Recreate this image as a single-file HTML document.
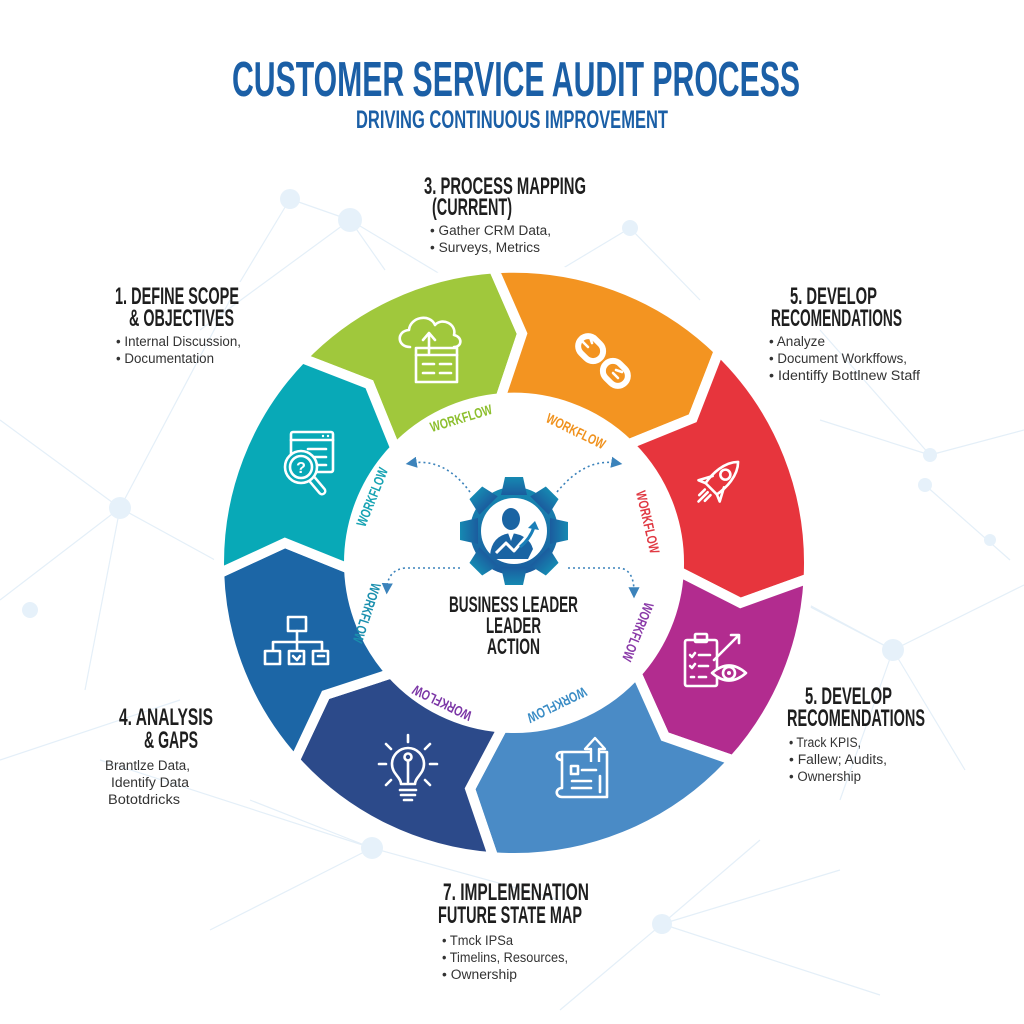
<!DOCTYPE html>
<html><head><meta charset="utf-8">
<style>
html,body{margin:0;padding:0;background:#fff;}
svg{display:block}
.h{font-family:"Liberation Sans Narrow","Liberation Sans",sans-serif;font-weight:bold;fill:#1e1e1e}
.t{font-family:"Liberation Sans Narrow","Liberation Sans",sans-serif;font-weight:bold;fill:#1b5fa6}
.b{font-family:"Liberation Sans",sans-serif;fill:#333;font-size:13.5px}
.wf{font-family:"Liberation Sans Narrow","Liberation Sans",sans-serif;font-weight:bold;font-size:14px}
.ic{fill:none;stroke:#fff;stroke-width:2.6;stroke-linecap:round;stroke-linejoin:round}
.dl{fill:none;stroke:#3c83bb;stroke-width:1.6;stroke-dasharray:2 3}
</style></head><body>
<svg width="1024" height="1024" viewBox="0 0 1024 1024" xmlns="http://www.w3.org/2000/svg">
<defs>
<marker id="ar" markerWidth="7" markerHeight="7" refX="3" refY="3.5" orient="auto"><path d="M0,0 L7,3.5 L0,7 Z" fill="#3c83bb"/></marker>
<linearGradient id="gg" x1="0" y1="0" x2="0" y2="1"><stop offset="0" stop-color="#1689b2"/><stop offset="1" stop-color="#1b5c9e"/></linearGradient>
</defs>

<!-- background network -->
<g stroke="#e4eff8" stroke-width="1.2" fill="none">
<path d="M350 220 L200 330 M350 220 L470 292 M290 199 L240 282 M350 220 L385 270 M290 199 L350 220"/>
<path d="M120 508 L0 420 M120 508 L215 560 M120 508 L85 690 M120 508 L230 300 M0 600 L120 508"/>
<path d="M893 650 L1024 585 M893 650 L800 600 M893 650 L965 770 M893 650 L840 800 M795 599 L893 650"/>
<path d="M930 455 L1024 430 M930 455 L820 420 M925 485 L1010 560 M930 455 L820 330"/>
<path d="M372 848 L250 800 M372 848 L560 900 M372 848 L210 930 M372 848 L100 760"/>
<path d="M662 924 L760 840 M662 924 L560 1010 M662 924 L880 995 M662 924 L840 870"/>
<path d="M630 228 L700 300 M630 228 L560 270 M0 760 L180 700"/>
</g>
<g fill="#e6f1fa">
<circle cx="290" cy="199" r="10"/><circle cx="350" cy="220" r="12"/><circle cx="630" cy="228" r="8"/>
<circle cx="120" cy="508" r="11"/><circle cx="795" cy="599" r="7"/><circle cx="893" cy="650" r="11"/>
<circle cx="930" cy="455" r="7"/><circle cx="925" cy="485" r="7"/><circle cx="372" cy="848" r="11"/>
<circle cx="662" cy="924" r="10"/><circle cx="30" cy="610" r="8"/><circle cx="990" cy="540" r="6"/>
</g>

<!-- Title -->
<text class="t" x="232" y="96" font-size="49" textLength="568" lengthAdjust="spacingAndGlyphs">CUSTOMER SERVICE AUDIT PROCESS</text>
<text class="t" x="356" y="128" font-size="25" textLength="312" lengthAdjust="spacingAndGlyphs">DRIVING CONTINUOUS IMPROVEMENT</text>

<!-- Ring segments -->
<g stroke="#fff" stroke-width="10" stroke-linejoin="miter">
<path fill="#a0c83c" d="M301.8 358.1 A295 295 0 0 1 493.6 268.4 L522.1 333.6 L500.4 398.2 A165 165 0 0 0 395.3 448.4 L369.3 384.3 Z"/>
<path fill="#f39421" d="M493.6 268.4 A295 295 0 0 1 718.9 350.8 L692.7 418.3 L628.6 444.3 A165 165 0 0 0 500.4 398.2 L522.1 333.6 Z"/>
<path fill="#e7353d" d="M718.9 350.8 A295 295 0 0 1 808.6 578.4 L740.5 602.9 L678.8 571.6 A165 165 0 0 0 628.6 444.3 L692.7 418.3 Z"/>
<path fill="#b22c8f" d="M808.6 578.4 A295 295 0 0 1 733.2 760.4 L664.9 736.6 L636.6 673.4 A165 165 0 0 0 678.8 571.6 L740.5 602.9 Z"/>
<path fill="#4a8bc6" d="M733.2 760.4 A295 295 0 0 1 493.4 857.3 L470.1 788.8 L502.5 727.6 A165 165 0 0 0 636.6 673.4 L664.9 736.6 Z"/>
<path fill="#2c4a8a" d="M493.4 857.3 A295 295 0 0 1 294.8 760.4 L325.6 694.9 L391.4 673.4 A165 165 0 0 0 502.5 727.6 L470.1 788.8 Z"/>
<path fill="#1c66a6" d="M294.8 760.4 A295 295 0 0 1 219.2 573.3 L284.9 542.9 L349.1 568.8 A165 165 0 0 0 391.4 673.4 L325.6 694.9 Z"/>
<path fill="#08a9b7" d="M219.2 573.3 A295 295 0 0 1 301.8 358.1 L369.3 384.3 L395.3 448.4 A165 165 0 0 0 349.1 568.8 L284.9 542.9 Z"/>
</g>

<!-- WORKFLOW labels -->
<g class="wf" text-anchor="middle" dominant-baseline="central">
<text transform="translate(372,497) rotate(-68)" fill="#17a3b3" textLength="62" lengthAdjust="spacingAndGlyphs">WORKFLOW</text>
<text transform="translate(461,418) rotate(-17)" fill="#8dbf2e" textLength="64" lengthAdjust="spacingAndGlyphs">WORKFLOW</text>
<text transform="translate(576,431) rotate(26)" fill="#f0921e" textLength="64" lengthAdjust="spacingAndGlyphs">WORKFLOW</text>
<text transform="translate(648,522) rotate(77)" fill="#e03a44" textLength="64" lengthAdjust="spacingAndGlyphs">WORKFLOW</text>
<text transform="translate(638,632) rotate(112)" fill="#8a3aa8" textLength="62" lengthAdjust="spacingAndGlyphs">WORKFLOW</text>
<text transform="translate(557,705) rotate(154)" fill="#3a8cc5" textLength="64" lengthAdjust="spacingAndGlyphs">WORKFLOW</text>
<text transform="translate(442,703) rotate(206)" fill="#7b36a6" textLength="64" lengthAdjust="spacingAndGlyphs">WORKFLOW</text>
<text transform="translate(367,613) rotate(108)" fill="#1a8fae" textLength="62" lengthAdjust="spacingAndGlyphs">WORKFLOW</text>
</g>

<!-- Icons -->
<!-- teal: window + magnifier -->
<rect x="291" y="432" width="42" height="40" rx="2" class="ic"/>
<line x1="291" y1="440" x2="333" y2="440" class="ic"/>
<circle cx="323" cy="436" r="1.2" fill="#fff"/><circle cx="328" cy="436" r="1.2" fill="#fff"/>
<line x1="308" y1="449" x2="326" y2="449" class="ic"/>
<line x1="312" y1="457" x2="326" y2="457" class="ic"/>
<line x1="316" y1="465" x2="326" y2="465" class="ic"/>
<line x1="311" y1="478" x2="322" y2="491" stroke="#fff" stroke-width="9" stroke-linecap="round"/>
<line x1="311" y1="478" x2="322" y2="491" stroke="#08a9b7" stroke-width="4" stroke-linecap="round"/>
<circle cx="301" cy="467" r="16" fill="#08a9b7" stroke="#fff" stroke-width="2.6"/>
<circle cx="301" cy="467" r="11" class="ic"/>
<text x="301" y="473" font-size="16" font-family="Liberation Sans, sans-serif" font-weight="bold" fill="#fff" text-anchor="middle">?</text>

<!-- green: cloud upload -->
<path class="ic" d="M410 347 C397 347 396 331 409 330 C410 317 430 313 435 325 C442 317 457 324 454 335 C463 337 462 347 454 347"/>
<rect x="416" y="348" width="41" height="34" fill="#a0c83c" class="ic"/>
<line x1="416" y1="355" x2="457" y2="355" class="ic"/>
<line x1="423" y1="364" x2="434" y2="364" class="ic"/><line x1="440" y1="364" x2="451" y2="364" class="ic"/>
<line x1="423" y1="373" x2="434" y2="373" class="ic"/><line x1="440" y1="373" x2="451" y2="373" class="ic"/>
<line x1="429" y1="353" x2="429" y2="334" class="ic"/>
<polyline class="ic" points="423,340 429,333 435,340"/>

<!-- orange: broken chain -->
<g transform="translate(603,361) rotate(-45)">
<rect x="-10" y="-31" width="20" height="27" rx="10" fill="none" stroke="#fff" stroke-width="6"/>
<rect x="-10" y="4" width="20" height="27" rx="10" fill="none" stroke="#fff" stroke-width="6"/>
</g>
<path class="ic" d="M583 342 L588 347 M590 337 L592 343 M618 378 L613 373 M622 372 L616 370"/>

<!-- red: rocket -->
<g transform="translate(719,481) rotate(45)" class="ic">
<path d="M0 -27 C10 -17 10 0 8 11 L-8 11 C-10 0 -10 -17 0 -27 Z"/>
<circle cx="0" cy="-9" r="5"/>
<path d="M-8 1 L-15 14 L-8 11 M8 1 L15 14 L8 11"/>
<path d="M-4 16 L-4 24 M0 16 L0 29 M4 16 L4 24"/>
</g>

<!-- magenta: clipboard + eye -->
<rect x="685" y="640" width="32" height="46" rx="2" class="ic"/>
<rect x="695" y="634" width="12" height="8" rx="1" fill="#b22c8f" class="ic"/>
<path class="ic" d="M690 655 L692 657 L695 653 M699 655 L710 655 M690 666 L692 668 L695 664 M699 666 L708 666 M691 677 L694 677 M699 677 L706 677"/>
<path d="M712 673 Q729 658 746 673 Q729 688 712 673 Z" fill="#b22c8f" stroke="#fff" stroke-width="2.6" stroke-linejoin="round"/>
<circle cx="729" cy="673" r="6" class="ic"/><circle cx="729" cy="673" r="2" fill="#fff"/>
<path class="ic" d="M714 660 L738 636 M731 635 L739 635 L739 643"/>

<!-- light blue: blueprint -->
<path class="ic" d="M562 752 L607 752 L607 797 L562 797 C555 797 555 788 562 788 L562 752 C555 752 555 760 562 760"/>
<path d="M591 762 L591 749 L585 749 L595 738 L605 749 L599 749 L599 762" fill="#4a8bc6" stroke="#fff" stroke-width="2.4" stroke-linejoin="round"/>
<path class="ic" d="M571 766 L578 766 L578 774 L571 774 Z M582 770 L596 770 M572 781 L591 781 M572 788 L591 788 M600 776 L600 792"/>

<!-- navy: bulb -->
<path class="ic" d="M401 784 C401 777 392 774 392 764 A16 16 0 1 1 424 764 C424 774 415 777 415 784 Z"/>
<path class="ic" d="M400 790 L416 790 M401 795 L415 795 M404 800 L412 800"/>
<circle cx="408" cy="757" r="3.5" class="ic"/>
<path class="ic" d="M408 761 L408 782 M408 735 L408 742 M386 744 L391 749 M430 744 L425 749 M379 764 L386 764 M430 764 L437 764 M386 785 L391 780 M430 785 L425 780"/>

<!-- blue: org chart -->
<rect x="288" y="617" width="18" height="14" class="ic"/>
<path class="ic" d="M297 631 L297 650 M273 642 L322 642 M273 642 L273 650 M322 642 L322 650"/>
<rect x="265" y="651" width="15" height="13" class="ic"/>
<rect x="289" y="651" width="15" height="13" class="ic"/>
<rect x="313" y="651" width="15" height="13" class="ic"/>
<path class="ic" d="M293 656 L297 660 L300 656 M318 656 L324 656"/>

<!-- dotted arrows -->
<path class="dl" d="M470 492 Q445 458 412 463" marker-end="url(#ar)"/>
<path class="dl" d="M557 492 Q585 458 616 463" marker-end="url(#ar)"/>
<path class="dl" d="M460 568 L405 568 Q388 570 387 588" marker-end="url(#ar)"/>
<path class="dl" d="M568 568 L620 568 Q634 570 634 592" marker-end="url(#ar)"/>

<!-- gear -->
<g transform="translate(514,531)">
<g fill="url(#gg)">
<circle r="44"/>
<path d="M-13 -36 L-9 -54 L9 -54 L13 -36 Z"/>
<path d="M-13 -36 L-9 -54 L9 -54 L13 -36 Z" transform="rotate(45)"/>
<path d="M-13 -36 L-9 -54 L9 -54 L13 -36 Z" transform="rotate(90)"/>
<path d="M-13 -36 L-9 -54 L9 -54 L13 -36 Z" transform="rotate(135)"/>
<path d="M-13 -36 L-9 -54 L9 -54 L13 -36 Z" transform="rotate(180)"/>
<path d="M-13 -36 L-9 -54 L9 -54 L13 -36 Z" transform="rotate(225)"/>
<path d="M-13 -36 L-9 -54 L9 -54 L13 -36 Z" transform="rotate(270)"/>
<path d="M-13 -36 L-9 -54 L9 -54 L13 -36 Z" transform="rotate(315)"/>
</g>
<circle r="33" fill="#fff"/>
<ellipse cx="-3" cy="-12" rx="9" ry="11" fill="#1a64a3"/>
<path d="M-24 24 Q-22 4 -3 2 Q15 4 19 18 L14 28 L-20 28 Z" fill="#1a64a3"/>
<path d="M-6 2 L-3 10 L0 2 Z" fill="#fff"/>
<polyline points="-18,22 -8,12 0,20 12,6" fill="none" stroke="#fff" stroke-width="3" stroke-linejoin="round"/>
<path d="M6 16 Q16 8 20 -4" fill="none" stroke="#1a7fb8" stroke-width="3"/>
<path d="M14 -3 L21 -10 L25 -1 Z" fill="#1a7fb8"/>
</g>

<!-- center text -->
<text class="h" x="449" y="612" font-size="22" textLength="129" lengthAdjust="spacingAndGlyphs">BUSINESS LEADER</text>
<text class="h" x="486" y="633" font-size="22" textLength="55" lengthAdjust="spacingAndGlyphs">LEADER</text>
<text class="h" x="487" y="654" font-size="22" textLength="53" lengthAdjust="spacingAndGlyphs">ACTION</text>

<!-- 3. process mapping -->
<text class="h" x="424" y="194" font-size="24" textLength="162" lengthAdjust="spacingAndGlyphs">3. PROCESS MAPPING</text>
<text class="h" x="432" y="215" font-size="24" textLength="80" lengthAdjust="spacingAndGlyphs">(CURRENT)</text>
<text class="b" x="430" y="235" textLength="121" lengthAdjust="spacingAndGlyphs">•  Gather CRM Data,</text>
<text class="b" x="430" y="252" textLength="110" lengthAdjust="spacingAndGlyphs">•  Surveys, Metrics</text>

<!-- 1. define scope -->
<text class="h" x="115" y="304" font-size="24" textLength="124" lengthAdjust="spacingAndGlyphs">1. DEFINE SCOPE</text>
<text class="h" x="129" y="326" font-size="24" textLength="105" lengthAdjust="spacingAndGlyphs">&amp; OBJECTIVES</text>
<text class="b" x="116" y="346" textLength="125" lengthAdjust="spacingAndGlyphs">•  Internal Discussion,</text>
<text class="b" x="116" y="363" textLength="98" lengthAdjust="spacingAndGlyphs">•  Documentation</text>

<!-- 5. develop (top right) -->
<text class="h" x="790" y="304" font-size="24" textLength="87" lengthAdjust="spacingAndGlyphs">5. DEVELOP</text>
<text class="h" x="771" y="326" font-size="24" textLength="131" lengthAdjust="spacingAndGlyphs">RECOMENDATIONS</text>
<text class="b" x="769" y="346" textLength="56" lengthAdjust="spacingAndGlyphs">•  Analyze</text>
<text class="b" x="769" y="363" textLength="138" lengthAdjust="spacingAndGlyphs">•  Document Workffows,</text>
<text class="b" x="769" y="380" textLength="151" lengthAdjust="spacingAndGlyphs">•  Identiffy Bottlnew Staff</text>

<!-- 4. analysis -->
<text class="h" x="119" y="725" font-size="24" textLength="94" lengthAdjust="spacingAndGlyphs">4. ANALYSIS</text>
<text class="h" x="144" y="748" font-size="24" textLength="54" lengthAdjust="spacingAndGlyphs">&amp; GAPS</text>
<text class="b" x="105" y="770" textLength="85" lengthAdjust="spacingAndGlyphs">Brantlze Data,</text>
<text class="b" x="111" y="787" textLength="78" lengthAdjust="spacingAndGlyphs">Identify Data</text>
<text class="b" x="108" y="804" textLength="72" lengthAdjust="spacingAndGlyphs">Bototdricks</text>

<!-- 5. develop (bottom right) -->
<text class="h" x="805" y="704" font-size="24" textLength="87" lengthAdjust="spacingAndGlyphs">5. DEVELOP</text>
<text class="h" x="787" y="726" font-size="24" textLength="138" lengthAdjust="spacingAndGlyphs">RECOMENDATIONS</text>
<text class="b" x="789" y="747" textLength="72" lengthAdjust="spacingAndGlyphs">•  Track KPIS,</text>
<text class="b" x="789" y="764" textLength="98" lengthAdjust="spacingAndGlyphs">•  Fallew;  Audits,</text>
<text class="b" x="789" y="781" textLength="72" lengthAdjust="spacingAndGlyphs">•  Ownership</text>

<!-- 7. implementation -->
<text class="h" x="443" y="900" font-size="24" textLength="146" lengthAdjust="spacingAndGlyphs">7. IMPLEMENATION</text>
<text class="h" x="438" y="923" font-size="24" textLength="144" lengthAdjust="spacingAndGlyphs">FUTURE STATE MAP</text>
<text class="b" x="442" y="945" textLength="71" lengthAdjust="spacingAndGlyphs">•  Tmck IPSa</text>
<text class="b" x="442" y="962" textLength="126" lengthAdjust="spacingAndGlyphs">•  Timelins, Resources,</text>
<text class="b" x="442" y="979" textLength="75" lengthAdjust="spacingAndGlyphs">•  Ownership</text>
</svg>
</body></html>
